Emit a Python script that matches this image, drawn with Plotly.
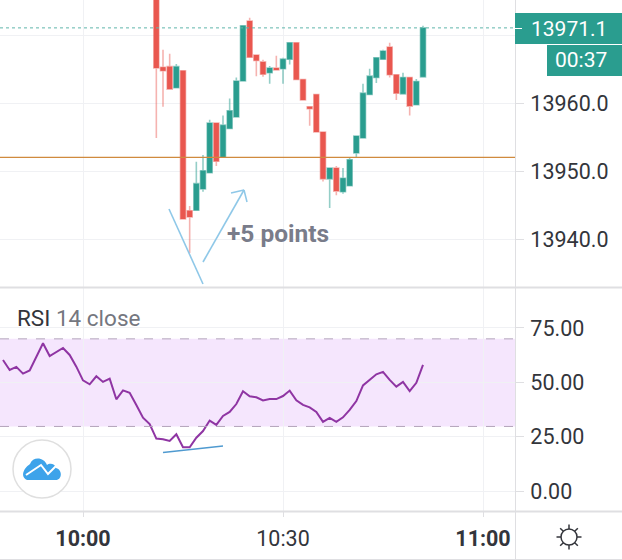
import math
import plotly.graph_objects as go

W, H = 622, 560
BASE_DAY = "2021-01-04"

# Candle data: minute after 10:00, then open / high / low / close
candle_minutes = list(range(11, 52))
opens = [13979.6, 13965.3, 13965.4, 13962.3, 13964.8, 13944.2, 13944.3, 13947.4, 13949.8, 13957.1,
         13952.1, 13956.3, 13958.0, 13963.3, 13972.1, 13967.1, 13966.1, 13964.5, 13965.2, 13965.1,
         13966.5, 13968.9, 13963.5, 13959.5, 13961.3, 13955.8, 13948.9, 13950.5, 13947.0, 13947.9,
         13952.7, 13954.9, 13961.3, 13963.8, 13966.5, 13968.3, 13964.2, 13961.4, 13963.8, 13959.8,
         13963.9]
highs = [13981.0, 13967.9, 13967.3, 13965.8, 13964.8, 13944.9, 13951.4, 13952.4, 13957.6, 13957.1,
         13958.2, 13960.7, 13963.8, 13971.4, 13972.6, 13967.1, 13966.4, 13965.5, 13967.0, 13966.7,
         13968.9, 13968.9, 13963.5, 13959.5, 13961.3, 13955.8, 13950.5, 13950.8, 13950.5, 13952.0,
         13955.2, 13962.9, 13965.1, 13966.7, 13967.9, 13968.9, 13964.2, 13964.5, 13963.8, 13963.6,
         13971.4]
lows = [13954.9, 13959.5, 13962.1, 13962.3, 13943.0, 13938.0, 13944.3, 13947.0, 13949.8, 13950.8,
        13952.1, 13956.3, 13958.0, 13963.3, 13966.8, 13964.0, 13963.9, 13962.9, 13964.9, 13962.9,
        13965.7, 13963.5, 13960.5, 13956.7, 13955.8, 13948.5, 13944.6, 13946.5, 13946.7, 13947.9,
        13952.1, 13954.9, 13961.3, 13963.0, 13966.5, 13963.8, 13960.5, 13961.4, 13958.2, 13959.8,
        13963.9]
closes = [13965.2, 13964.8, 13962.1, 13965.4, 13943.0, 13943.3, 13948.2, 13950.1, 13957.1, 13951.5,
          13956.8, 13958.9, 13963.3, 13971.4, 13966.8, 13966.3, 13964.3, 13965.2, 13964.9, 13966.5,
          13968.9, 13963.5, 13960.5, 13959.2, 13955.8, 13948.9, 13950.5, 13947.1, 13949.0, 13951.7,
          13955.2, 13961.5, 13964.0, 13966.7, 13967.7, 13964.2, 13961.5, 13963.8, 13959.6, 13963.2,
          13971.1]

# RSI: minute relative to 10:00
rsi_minutes = list(range(-12, 52))
rsi_values = [60.3, 55.7, 57.1, 54.0, 55.5, 61.8, 68.0, 62.1, 64.0, 65.8,
              62.6, 57.2, 50.9, 49.1, 52.8, 50.2, 51.7, 42.2, 46.3, 45.2,
              39.6, 33.7, 30.8, 24.1, 23.8, 23.0, 26.1, 20.1, 20.1, 24.5,
              27.6, 32.4, 30.4, 34.5, 36.4, 40.0, 45.9, 43.6, 43.1, 41.7,
              42.3, 42.3, 43.7, 46.2, 41.7, 39.6, 38.5, 36.4, 31.8, 33.6,
              31.8, 33.9, 37.3, 41.4, 48.6, 51.1, 53.7, 54.8, 51.1, 48.0,
              50.2, 46.0, 49.8, 58.0]

price_ticks = [13940, 13950, 13960, 13970]
price_tick_labels = ["13940.0", "13950.0", "13960.0", ""]
rsi_ticks = [0, 25, 50, 75]
rsi_tick_labels = ["0.00", "25.00", "50.00", "75.00"]
time_ticks = ["10:00", "10:30", "11:00"]
time_tick_labels = ["<b>10:00</b>", "10:30", "<b>11:00</b>"]

last_price = 13971.1
countdown = "00:37"
level_price = 13952.06

GREEN = "#2a9d8f"
RED = "#e9574f"
GRID = "#f0f1f4"
SEP = "#dfdfe2"
TEXT = "#33353b"
FONT = "Roboto"
TICK_SIZE = 21.5


def stamp(minute):
    h = 10 + minute // 60
    m = minute % 60
    return f"{BASE_DAY} {h:02d}:{m:02d}:00"


def fx(px):
    return px / W


def fy(py):
    return 1 - py / H


def pt(x, y):
    return f"{fx(x):.5f} {fy(y):.5f}"


candle_x = [stamp(m) for m in candle_minutes]
body_hi = [max(o, c) for o, c in zip(opens, closes)]
body_lo = [min(o, c) for o, c in zip(opens, closes)]

fig = go.Figure()
fig.add_trace(go.Candlestick(
    x=candle_x, open=opens, high=highs, low=lows, close=closes,
    increasing=dict(line=dict(color="rgba(42,157,143,0.5)", width=1.6), fillcolor="rgba(42,157,143,0.5)"),
    decreasing=dict(line=dict(color="rgba(233,87,79,0.45)", width=1.6), fillcolor="rgba(233,87,79,0.45)"),
    xaxis="x", yaxis="y", showlegend=False, hoverinfo="skip"))
fig.add_trace(go.Candlestick(
    x=candle_x, open=opens, high=body_hi, low=body_lo, close=closes,
    increasing=dict(line=dict(color=GREEN, width=0), fillcolor=GREEN),
    decreasing=dict(line=dict(color=RED, width=0), fillcolor=RED),
    xaxis="x", yaxis="y", showlegend=False, hoverinfo="skip"))
fig.add_trace(go.Scatter(
    x=[stamp(m) for m in rsi_minutes], y=rsi_values, mode="lines",
    line=dict(color="#8f35a3", width=2), xaxis="x2", yaxis="y2",
    showlegend=False, hoverinfo="skip"))


def line(x0, y0, x1, y1, color, width=1.5, dash="solid", layer="above"):
    return dict(type="line", xref="paper", yref="paper", x0=fx(x0), y0=fy(y0), x1=fx(x1), y1=fy(y1),
                line=dict(color=color, width=width, dash=dash), layer=layer)


def rect(x0, y0, x1, y1, color):
    return dict(type="rect", xref="paper", yref="paper", x0=fx(x0), y0=fy(y0), x1=fx(x1), y1=fy(y1),
                fillcolor=color, line=dict(width=0), layer="above")


shapes = [
    # RSI band
    dict(type="rect", xref="paper", yref="y2", x0=0, x1=fx(515), y0=29.7, y1=70,
         fillcolor="#f5e6fd", line=dict(width=0), layer="below"),
    dict(type="line", xref="paper", yref="y2", x0=0, x1=fx(515), y0=70, y1=70,
         line=dict(color="#b3a3ba", width=1, dash="dash")),
    dict(type="line", xref="paper", yref="y2", x0=0, x1=fx(515), y0=29.7, y1=29.7,
         line=dict(color="#b3a3ba", width=1, dash="dash")),
    # Horizontal level and last-price line
    dict(type="line", xref="paper", yref="y", x0=0, x1=fx(515), y0=level_price, y1=level_price,
         line=dict(color="#d08a3e", width=1.4)),
    dict(type="line", xref="paper", yref="y", x0=0, x1=fx(515), y0=last_price, y1=last_price,
         line=dict(color="#5fb5ab", width=1, dash="dot")),
    # Pane separators
    line(515.5, 0, 515.5, 560, SEP, 1),
    line(0, 287.5, 622, 287.5, SEP, 2),
    line(0, 511.5, 622, 511.5, SEP, 2),
    line(0, 559.5, 622, 559.5, SEP, 1),
    # Price labels
    rect(515, 13, 622, 44, GREEN),
    rect(547, 45, 622, 76, GREEN),
    line(515, 28.5, 522, 28.5, "#ffffff", 1),
    # Hand-drawn marks
    line(169, 209, 203, 284, "#8fc8e8", 1.6),
    line(203, 262, 244, 190, "#8fc8e8", 1.6),
    line(231, 193, 244, 190, "#8fc8e8", 1.6),
    line(244, 190, 247, 202, "#8fc8e8", 1.6),
    line(163, 452.5, 223, 446, "#4f9ad0", 1.3),
    # Logo
    dict(type="circle", xref="paper", yref="paper", x0=fx(13), x1=fx(71), y0=fy(498), y1=fy(440),
         fillcolor="#ffffff", line=dict(color="#dfdfdf", width=1.5)),
    dict(type="path", xref="paper", yref="paper", fillcolor="#3da3ea", line=dict(width=0),
         path=f"M {pt(27, 480)} L {pt(56, 480)} C {pt(62, 480)} {pt(63, 470)} {pt(56, 468)} "
              f"C {pt(55, 463)} {pt(49, 463)} {pt(47, 465)} C {pt(44, 457)} {pt(33, 456)} {pt(30, 464)} "
              f"C {pt(25, 467)} {pt(19, 476)} {pt(27, 480)} Z"),
    dict(type="path", xref="paper", yref="paper", line=dict(color="#ffffff", width=2),
         path=f"M {pt(26, 475)} L {pt(41, 465)} L {pt(48, 474)} L {pt(57, 465)}"),
    # Settings sun
    dict(type="circle", xref="paper", yref="paper", x0=fx(561), x1=fx(577), y0=fy(545), y1=fy(529),
         fillcolor="#ffffff", line=dict(color=TEXT, width=1.5)),
]
for k in range(8):
    a = k * math.pi / 4
    shapes.append(line(569 + 8 * math.cos(a), 537 + 8 * math.sin(a),
                       569 + 12.5 * math.cos(a), 537 + 12.5 * math.sin(a), TEXT, 1.5))


def label(text, x, y, size=21, color=TEXT, anchor="left"):
    return dict(text=text, xref="paper", yref="paper", x=fx(x), y=fy(y), xanchor=anchor, yanchor="middle",
                showarrow=False, borderpad=0, font=dict(family=FONT, size=size, color=color))


annotations = [
    label(f"{last_price:.1f}", 530, 28.5, color="#ffffff"),
    label(countdown, 554, 60.5, color="#ffffff"),
    label("<b>+5 points</b>", 226, 233, size=24.5, color="#797c8a"),
    label(f"RSI <span style='color:#75777f'>14 close</span>", 16, 318, size=22.5),
]

axis_common = dict(showline=False, zeroline=False, gridcolor=GRID, gridwidth=1, fixedrange=True)
x_range = [f"{BASE_DAY} 09:47:33", f"{BASE_DAY} 11:04:48"]
time_vals = [f"{BASE_DAY} {t}:00" for t in time_ticks]

fig.update_layout(
    width=W, height=H, autosize=False,
    margin=dict(l=0, r=0, t=0, b=0),
    paper_bgcolor="#ffffff", plot_bgcolor="#ffffff",
    font=dict(family=FONT, size=20, color=TEXT),
    boxmode="overlay", boxgap=0.25, boxgroupgap=0,
    showlegend=False,
    shapes=shapes, annotations=annotations,
    xaxis=dict(domain=[0, 515 / W], range=x_range, type="date", anchor="y", matches="x2",
               rangeslider=dict(visible=False), tickmode="array", tickvals=time_vals,
               showticklabels=False, ticks="", **axis_common),
    yaxis=dict(domain=[1 - 287 / H, 1], range=[13933.0, 13975.2], side="right", anchor="x",
               tickmode="array", tickvals=price_ticks, ticktext=price_tick_labels,
               ticks="outside", ticklen=8, tickcolor=SEP, ticklabelstandoff=2,
               tickfont=dict(family=FONT, size=TICK_SIZE, color=TEXT), **axis_common),
    xaxis2=dict(domain=[0, 515 / W], range=x_range, type="date", anchor="y2",
                tickmode="array", tickvals=time_vals, ticktext=time_tick_labels,
                ticks="outside", ticklen=5, tickcolor=SEP, ticklabelstandoff=3,
                tickfont=dict(family=FONT, size=TICK_SIZE, color=TEXT), **axis_common),
    yaxis2=dict(domain=[1 - 511 / H, 1 - 288 / H], range=[-9.2, 93.4], side="right", anchor="x2",
                tickmode="array", tickvals=rsi_ticks, ticktext=rsi_tick_labels,
                ticks="outside", ticklen=8, tickcolor=SEP, ticklabelstandoff=2,
                tickfont=dict(family=FONT, size=TICK_SIZE, color=TEXT), **axis_common),
)

fig.write_html("out.html", config=dict(displayModeBar=False),
               post_script="document.body.style.margin='0';document.body.style.overflow='hidden';")
